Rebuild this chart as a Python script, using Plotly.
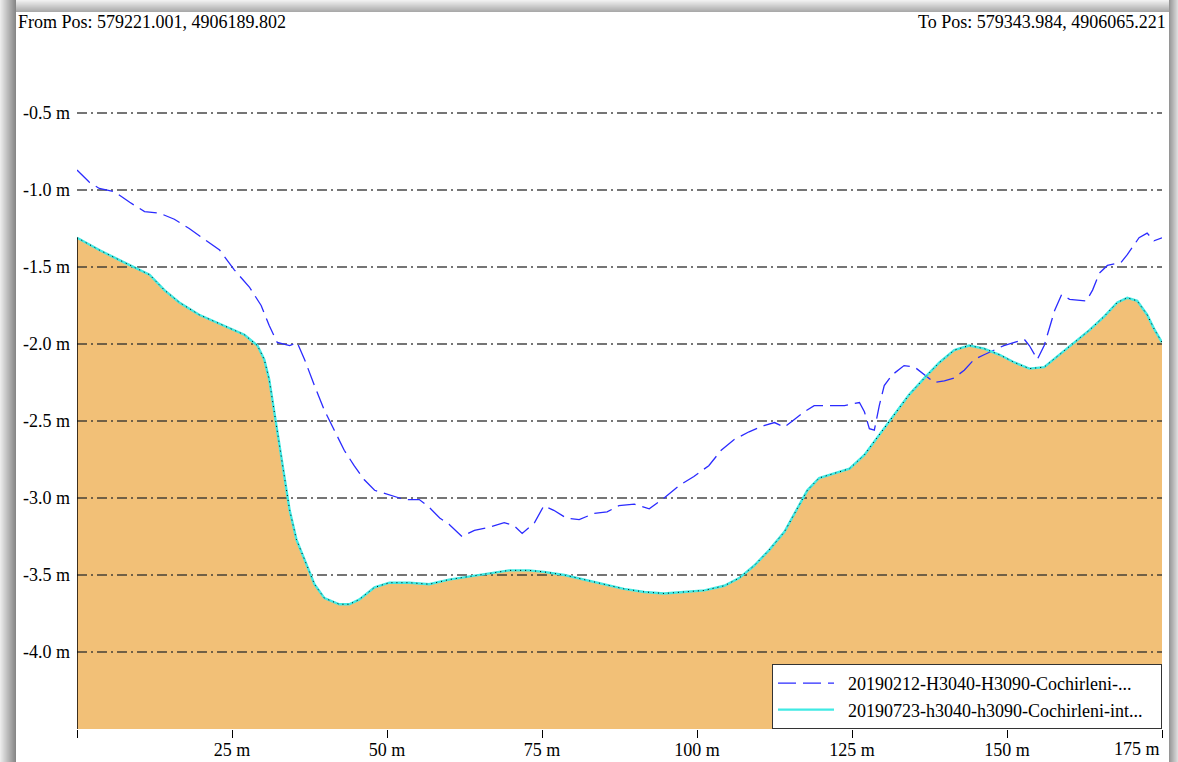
import plotly.graph_objects as go

# ---------------- data ----------------
ground_x = [0, 3.6, 7.6, 11.7, 14.1, 16.5, 19.7, 23.7, 27.0, 29.1, 30.2, 31.0, 31.8, 32.6, 33.5,
            34.3, 35.4, 36.7, 38.3, 39.9, 42.3, 43.9, 45.5, 48.0, 50.4, 53.6, 56.8, 60.0, 63.2,
            66.5, 69.7, 72.9, 75.3, 78.6, 81.8, 85.0, 88.2, 91.5, 94.7, 97.9, 101.2, 104.4,
            106.8, 109.2, 111.6, 114.1, 116.0, 117.8, 119.7, 122.2, 124.6, 127.0, 129.4, 131.8,
            134.2, 136.7, 139.1, 141.5, 143.9, 146.3, 148.8, 151.2, 153.6, 156.0, 158.4, 160.9,
            163.3, 165.7, 167.8, 169.4, 171.0, 172.6, 173.7, 175.0]
ground_y = [-1.31, -1.39, -1.47, -1.55, -1.65, -1.73, -1.81, -1.88, -1.94, -2.01, -2.10, -2.23,
            -2.43, -2.66, -2.88, -3.08, -3.27, -3.40, -3.56, -3.65, -3.69, -3.69, -3.66, -3.58,
            -3.55, -3.55, -3.56, -3.53, -3.51, -3.49, -3.47, -3.47, -3.48, -3.50, -3.53, -3.56,
            -3.59, -3.61, -3.62, -3.61, -3.60, -3.57, -3.52, -3.44, -3.34, -3.22, -3.08, -2.95,
            -2.87, -2.84, -2.81, -2.72, -2.59, -2.46, -2.33, -2.22, -2.12, -2.04, -2.01, -2.03,
            -2.07, -2.12, -2.16, -2.15, -2.07, -1.99, -1.91, -1.82, -1.73, -1.70, -1.72, -1.81,
            -1.90, -1.99]

old_x = [0, 2.0, 3.6, 6.0, 8.5, 10.9, 13.3, 15.7, 18.1, 20.5, 23.0, 25.4, 27.8, 29.7, 31.0, 32.3,
         34.3, 35.5, 36.7, 38.3, 39.9, 41.5, 43.1, 44.7, 46.3, 48.0, 50.4, 52.8, 55.2, 56.8, 58.5,
         60.0, 62.1, 64.1, 66.5, 68.9, 70.5, 71.8, 73.8, 75.3, 76.9, 78.9, 81.0, 83.4, 85.5, 87.4,
         89.9, 92.3, 94.7, 97.1, 99.5, 101.9, 103.9, 106.0, 108.4, 110.8, 112.5, 114.1, 115.7,
         117.3, 118.9, 121.4, 123.8, 126.2, 127.0, 127.8, 128.6, 129.4, 130.2, 131.5, 133.4,
         135.1, 136.7, 138.3, 139.9, 141.5, 143.1, 144.7, 146.3, 147.9, 149.5, 151.2, 152.8,
         153.6, 154.9, 156.0, 157.7, 158.8, 160.1, 162.8, 163.8, 164.9, 166.2, 168.4, 169.4,
         171.3, 172.6, 173.7, 175.0]
old_y = [-0.87, -0.95, -0.99, -1.01, -1.08, -1.14, -1.15, -1.19, -1.25, -1.32, -1.39, -1.52,
         -1.63, -1.75, -1.88, -1.99, -2.01, -1.99, -2.10, -2.27, -2.43, -2.56, -2.69, -2.79,
         -2.88, -2.95, -2.98, -3.01, -3.01, -3.06, -3.13, -3.17, -3.25, -3.21, -3.19, -3.16,
         -3.18, -3.23, -3.16, -3.05, -3.08, -3.13, -3.14, -3.10, -3.09, -3.05, -3.04, -3.07,
         -3.00, -2.92, -2.86, -2.79, -2.69, -2.62, -2.57, -2.53, -2.51, -2.54, -2.49, -2.44,
         -2.40, -2.40, -2.40, -2.38, -2.44, -2.55, -2.56, -2.40, -2.27, -2.20, -2.14, -2.15,
         -2.20, -2.25, -2.24, -2.22, -2.17, -2.10, -2.07, -2.04, -2.01, -1.99, -1.97, -2.01,
         -2.10, -2.01, -1.78, -1.68, -1.71, -1.72, -1.65, -1.54, -1.49, -1.47, -1.42, -1.31,
         -1.28, -1.33, -1.31]

x_ticks = [0, 25, 50, 75, 100, 125, 150, 175]
x_labels = ["", "25 m", "50 m", "75 m", "100 m", "125 m", "150 m", "175 m"]
y_ticks = [-4.0, -3.5, -3.0, -2.5, -2.0, -1.5, -1.0, -0.5]
y_labels = ["-4.0 m", "-3.5 m", "-3.0 m", "-2.5 m", "-2.0 m", "-1.5 m", "-1.0 m", "-0.5 m"]
x_range = [0, 175]
y_range = [-4.5, 0]

series_old = "20190212-H3040-H3090-Cochirleni-..."
series_new = "20190723-h3040-h3090-Cochirleni-int..."
from_text = "From Pos: 579221.001, 4906189.802"
to_text = "To Pos: 579343.984, 4906065.221"

# ---------------- layout constants ----------------
W, H = 1178, 762
L, R, T, B = 77, 16, 36, 33
PW, PH = W - L - R, H - T - B
FONT = "Liberation Serif, Times New Roman, serif"
FS = 18
LEAD = "\u00a0" * 2
PAD = "\u00a0" * 3

fig = go.Figure()

# baseline for the fill (bottom of the axis)
fig.add_trace(go.Scatter(x=ground_x, y=[y_range[0]] * len(ground_x), mode="lines",
                         line=dict(width=0, color="rgba(0,0,0,0)"), showlegend=False,
                         hoverinfo="skip"))
fig.add_trace(go.Scatter(x=ground_x, y=ground_y, mode="lines", fill="tonexty",
                         fillcolor="#F2C077", line=dict(width=0, color="#F2C077"),
                         showlegend=False, hoverinfo="skip"))

# dash-dot grid lines drawn above the fill
for v in y_ticks:
    fig.add_trace(go.Scatter(x=x_range, y=[v, v], mode="lines",
                             line=dict(color="rgba(45,45,45,0.88)", width=1.6,
                                       dash="10px,4px,2px,4px"),
                             showlegend=False, hoverinfo="skip"))

fig.add_trace(go.Scatter(x=old_x, y=old_y, mode="lines", name=LEAD + series_old + PAD,
                         line=dict(color="#2B2BFF", width=1.3, dash="18px,7px")))
fig.add_trace(go.Scatter(x=ground_x, y=ground_y, mode="lines", name=LEAD + series_new + PAD,
                         line=dict(color="#40EAE4", width=2.4)))
fig.add_trace(go.Scatter(x=ground_x, y=ground_y, mode="lines", showlegend=False,
                         line=dict(color="black", width=1, dash="1px,4px"),
                         hoverinfo="skip"))

# left edge of the profile
fig.add_shape(type="line", x0=ground_x[0], x1=ground_x[0], y0=y_range[0], y1=ground_y[0],
              xref="x", yref="y", line=dict(color="black", width=1.5), layer="above")


def px2x(px):
    return (px - L) / PW


def py2y(py):
    return 1 - (py - T) / PH


def grey(v):
    v = int(round(v))
    return f"rgb({v},{v},{v})"


# window-like shadow frame
shadows = []
for i in range(16):  # left strip, light -> dark
    shadows.append((i, i + 1, 0, H, 235 - 100 * i / 15))
for i in range(9):  # right strip, dark -> light
    shadows.append((1169 + i, 1170 + i, 0, H, 150 + 70 * i / 8))
for i in range(12):  # top strip, light -> dark
    shadows.append((16, 1169, i, i + 1, 240 - 70 * i / 11))
for x0, x1, y0, y1, g in shadows:
    fig.add_shape(type="rect", xref="paper", yref="paper",
                  x0=px2x(x0), x1=px2x(x1), y0=py2y(y1), y1=py2y(y0),
                  fillcolor=grey(g), line=dict(width=0), layer="above")

fig.add_annotation(text=from_text, xref="paper", yref="paper", x=0, y=1,
                   xanchor="left", yanchor="bottom", xshift=16 - L, yshift=2,
                   showarrow=False, font=dict(family=FONT, size=FS, color="black"))
fig.add_annotation(text=to_text, xref="paper", yref="paper", x=1, y=1,
                   xanchor="right", yanchor="bottom", xshift=6, yshift=2,
                   showarrow=False, font=dict(family=FONT, size=FS, color="black"))
# last x tick label sits right-aligned against its tick
fig.add_annotation(text=x_labels[-1], xref="x", yref="paper", x=x_ticks[-1], y=0,
                   xanchor="right", yanchor="top", yshift=-8,
                   showarrow=False, font=dict(family=FONT, size=FS, color="black"))
tick_text = x_labels[:-1] + [""]

fig.update_layout(
    width=W, height=H,
    margin=dict(l=L, r=R, t=T, b=B, pad=0, autoexpand=False),
    paper_bgcolor="white", plot_bgcolor="white",
    font=dict(family=FONT, size=FS, color="black"),
    showlegend=True,
    legend=dict(x=1, y=0, xanchor="right", yanchor="bottom", traceorder="normal",
                bgcolor="white", bordercolor="#333333", borderwidth=1,
                font=dict(family=FONT, size=FS, color="black"),
                itemwidth=56, tracegroupgap=0),
    xaxis=dict(range=x_range, tickvals=x_ticks, ticktext=tick_text, automargin=False,
               ticks="outside", ticklen=8, tickcolor="black", tickwidth=1.2,
               ticklabelstandoff=-4,
               showgrid=False, zeroline=False, showline=False,
               tickfont=dict(family=FONT, size=FS, color="black")),
    yaxis=dict(range=y_range, tickvals=y_ticks, ticktext=y_labels, automargin=False,
               ticks="", showgrid=False, zeroline=False, showline=False,
               ticklabelstandoff=6,
               tickfont=dict(family=FONT, size=FS, color="black")),
)

fig.write_html("out.html", config={"displayModeBar": False},
               post_script="document.body.style.margin='0';document.body.style.overflow='hidden';")
